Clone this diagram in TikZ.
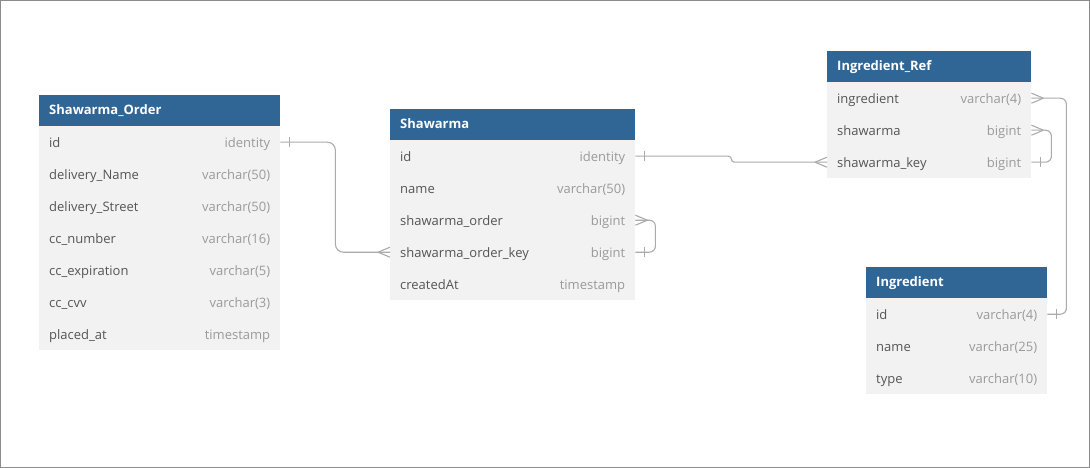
\documentclass[tikz,border=0pt]{standalone}
\usepackage{fontspec}
\setmainfont{Open Sans}
\definecolor{hdrc}{HTML}{306696}
\definecolor{bodyc}{HTML}{F2F2F2}
\definecolor{fieldc}{HTML}{555555}
\definecolor{typec}{HTML}{9A9A9A}
\definecolor{connc}{HTML}{ABABAB}
\definecolor{framec}{HTML}{8C8C8C}
\tikzset{
  rowbox/.style={fill=bodyc, draw=none, inner xsep=10pt, inner ysep=0pt, minimum height=32pt, text height=10pt, text depth=0pt, anchor=north west, font=\fontsize{13}{15}\selectfont},
  hdrbox/.style={fill=hdrc, draw=none, inner xsep=10pt, inner ysep=0pt, minimum height=32pt, text height=6pt, text depth=0pt, anchor=north west, font=\fontsize{13}{15}\selectfont\bfseries, text=white},
  conn/.style={draw=connc, line width=1.1pt},
}
\newcommand\erow[5]{\node[rowbox, minimum width=#2] (#1) at (#3) {\makebox[\dimexpr#2pt-20pt\relax]{\color{fieldc}#4\hfill\color{typec}#5}};}
\newcommand\ehdr[4]{\node[hdrbox, minimum width=#2] (#1) at (#3) {\makebox[\dimexpr#2pt-20pt\relax][l]{#4}};}
% crow's foot: #1 anchor, #2 direction (+1 right side, -1 left side)
\newcommand\crow[2]{\draw[conn] ([shift={(#2*12,0)}]#1) -- ([shift={(0,-5)}]#1) ([shift={(#2*12,0)}]#1) -- ([shift={(0,5)}]#1);}
\newcommand\tick[2]{\draw[conn] ([shift={(#2*9,-5)}]#1) -- ([shift={(#2*9,5)}]#1);}
\begin{document}
\begin{tikzpicture}[x=1pt,y=-1pt]
\fill[white] (0,0) rectangle (1090,468);
\draw[framec, line width=1pt] (0.5,0.5) rectangle (1089.5,467.5);
\useasboundingbox (0,0) rectangle (1090,468);
% Shawarma_Order
\ehdr{so}{241}{39,95}{Shawarma\_Order}
\erow{so-id}{241}{39,126}{id}{identity}
\erow{so-dn}{241}{39,158}{delivery\_Name}{varchar(50)}
\erow{so-ds}{241}{39,190}{delivery\_Street}{varchar(50)}
\erow{so-cc}{241}{39,222}{cc\_number}{varchar(16)}
\erow{so-ce}{241}{39,254}{cc\_expiration}{varchar(5)}
\erow{so-cv}{241}{39,286}{cc\_cvv}{varchar(3)}
\erow{so-pa}{241}{39,318}{placed\_at}{timestamp}
% Shawarma
\ehdr{sh}{245}{390,109}{Shawarma}
\erow{sh-id}{245}{390,140}{id}{identity}
\erow{sh-nm}{245}{390,172}{name}{varchar(50)}
\erow{sh-o}{245}{390,204}{shawarma\_order}{bigint}
\erow{sh-ok}{245}{390,236}{shawarma\_order\_key}{bigint}
\erow{sh-ca}{245}{390,268}{createdAt}{timestamp}
% Ingredient_Ref
\ehdr{ir}{204}{827,51}{Ingredient\_Ref}
\erow{ir-ing}{204}{827,82}{ingredient}{varchar(4)}
\erow{ir-sw}{204}{827,114}{shawarma}{bigint}
\erow{ir-sk}{204}{827,146}{shawarma\_key}{bigint}
% Ingredient
\ehdr{in}{181}{866,267}{Ingredient}
\erow{in-id}{181}{866,298}{id}{varchar(4)}
\erow{in-nm}{181}{866,330}{name}{varchar(25)}
\erow{in-ty}{181}{866,362}{type}{varchar(10)}
% connectors
\draw[conn, rounded corners=8pt] (so-id.east) -- ++(55,0) |- (sh-ok.west);
\tick{so-id.east}{1}
\crow{sh-ok.west}{-1}
\draw[conn, rounded corners=3pt] (sh-id.east) -- ++(96,0) |- (ir-sk.west);
\tick{sh-id.east}{1}
\crow{ir-sk.west}{-1}
\draw[conn, rounded corners=6pt] (sh-o.east) -- ++(20,0) |- (sh-ok.east);
\crow{sh-o.east}{1}
\tick{sh-ok.east}{1}
\draw[conn, rounded corners=6pt] (ir-ing.east) -- ++(35,0) |- (in-id.east);
\crow{ir-ing.east}{1}
\tick{in-id.east}{1}
\draw[conn, rounded corners=6pt] (ir-sw.east) -- ++(20,0) |- (ir-sk.east);
\crow{ir-sw.east}{1}
\tick{ir-sk.east}{1}
\end{tikzpicture}
\end{document}
